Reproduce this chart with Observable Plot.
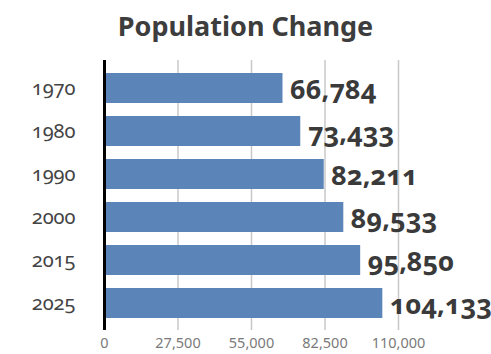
<!DOCTYPE html>
<html>
<head>
<meta charset="utf-8">
<script src="https://cdn.jsdelivr.net/npm/d3@7"></script>
<script src="https://cdn.jsdelivr.net/npm/@observablehq/plot@0.6"></script>
<style>
  html, body { margin: 0; padding: 0; background: #fff; }
  #title { height: 50px; line-height: 52px; text-align: center; font-family: "Noto Sans", "Open Sans", sans-serif; font-weight: bold; font-size: 27px; color: #3d3d3d; }
  svg { font-variant-numeric: oldstyle-nums; }
</style>
</head>
<body>
<div id="title">Population Change</div>
<div id="chart"></div>
<script>
const years = ["1970", "1980", "1990", "2000", "2015", "2025"];
const population = [66784, 73433, 82211, 89533, 95850, 104133];
const xTicks = [0, 27500, 55000, 82500, 110000];

const data = years.map((year, i) => ({year, pop: population[i]}));
const fmt = d3.format(",");

const chart = Plot.plot({
  width: 491,
  height: 304,
  marginLeft: 104,
  marginRight: 0,
  marginTop: 10,
  marginBottom: 24,
  style: {fontFamily: "'Noto Sans', sans-serif", fontVariantNumeric: "oldstyle-nums", background: "#fff"},
  x: {domain: [0, 110000], range: [104, 398], ticks: xTicks, tickFormat: fmt, label: null, tickSize: 0, tickPadding: 7},
  y: {domain: years, paddingInner: 0.31, paddingOuter: 0.155, insetTop: 4, insetBottom: 3, label: null, tickSize: 0, tickPadding: 29},
  marks: [
    Plot.gridX(xTicks, {stroke: "#c8c8c8", strokeOpacity: 1, strokeWidth: 1.5}),
    Plot.barX(data, {x: "pop", y: "year", fill: "#5b84b9"}),
    Plot.ruleX([0], {stroke: "#000", strokeWidth: 3}),
    Plot.axisX({ticks: xTicks, tickFormat: fmt, tickSize: 0, tickPadding: 7, fontSize: 14.5, fill: "#7a7a7a", label: null}),
    Plot.axisY({tickSize: 0, tickPadding: 29, fontSize: 20, fill: "#444", label: null}),
    Plot.text(data, {x: "pop", y: "year", text: d => fmt(d.pop), dx: 7, dy: 2, textAnchor: "start", fontSize: 27, fontWeight: "bold", fill: "#3a3a3a"})
  ]
});
document.getElementById("chart").appendChild(chart);
</script>
</body>
</html>
